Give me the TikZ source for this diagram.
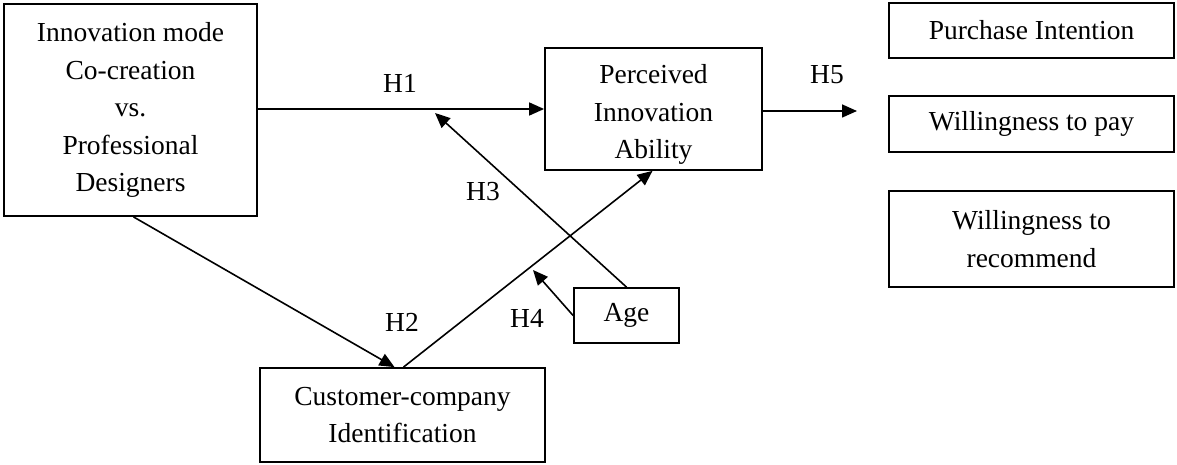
\documentclass[tikz,border=0pt]{standalone}
\usepackage{fontspec}
\setmainfont{Liberation Serif}
\usetikzlibrary{arrows.meta}
\begin{document}
\begin{tikzpicture}[x=1pt,y=-1pt,
  box/.style={draw, line width=1.8pt, inner sep=0pt, align=center,
    font=\fontsize{27.5}{37.5}\selectfont},
  txt/.style={inner sep=0pt, align=center, font=\fontsize{27.5}{37.5}\selectfont},
  lbl/.style={inner sep=0pt, font=\fontsize{27.5}{30}\selectfont},
  arr/.style={line width=1.6pt, -{Triangle[length=15pt,width=13pt]}}]
\useasboundingbox[fill=white] (0,0) rectangle (1177,465);
\node[box, minimum width=253pt, minimum height=212pt] (inno) at (130.5,110)
  {Innovation mode\\Co-creation\\vs.\\Professional\\Designers};
\node[box, minimum width=217pt, minimum height=122pt] (pia) at (653.5,109) {};
\node[txt] (piatext) at (653.5,114.5) {Perceived\\Innovation\\Ability};
\node[box, minimum width=285pt, minimum height=55pt] (pi) at (1031.5,30.5)
  {Purchase Intention};
\node[box, minimum width=285pt, minimum height=56pt] (wtp) at (1031.5,124)
  {Willingness to pay};
\node[box, minimum width=285pt, minimum height=96pt] (wtr) at (1031.5,239)
  {Willingness to\\recommend};
\node[box, minimum width=285pt, minimum height=94pt] (cci) at (402.5,415)
  {Customer-company\\Identification};
\node[box, minimum width=105pt, minimum height=55pt] (age) at (626.5,315.5)
  {Age};
\coordinate (h5end) at (857,111);
\coordinate (h3end) at (435,113);
\coordinate (h4end) at (533,270);
\draw[arr] ([yshift=1pt]inno.east) -- ([yshift=1pt]inno.east -| pia.west);
\draw[arr] (pia.east |- h5end) -- (h5end);
\draw[arr] ([xshift=3pt]inno.south) -- ([xshift=-8pt]cci.north);
\draw[arr] ([xshift=1pt]cci.north) -- ([xshift=-1pt]pia.south);
\draw[arr] (age.north) -- (h3end);
\draw[arr] (age.west) -- (h4end);
\node[lbl] (H1) at (400,83) {H1};
\node[lbl] (H2) at (402,322) {H2};
\node[lbl] (H3) at (483,192) {H3};
\node[lbl] (H4) at (527,318) {H4};
\node[lbl] (H5) at (827,75) {H5};
\end{tikzpicture}
\end{document}
